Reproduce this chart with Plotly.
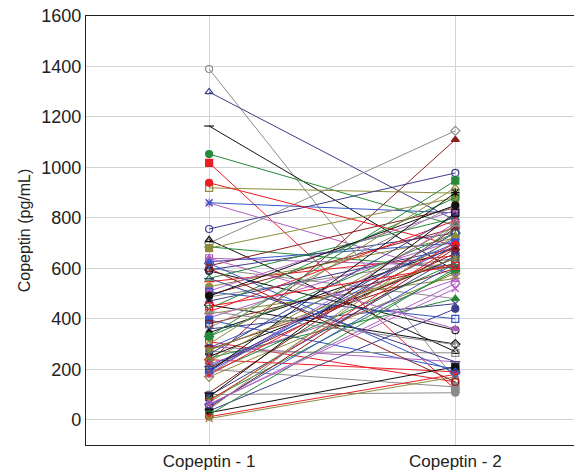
import plotly.graph_objects as go

timepoints = ["Copeptin - 1", "Copeptin - 2"]

copeptin_1 = [1390, 1299, 1164, 1053, 1018, 919, 859, 860, 230, 700, 756, 713, 685, 939, 680,
              640, 626, 610, 600, 594, 590, 560, 547, 527, 510, 507, 495, 487, 470, 455,
              440, 428, 420, 404, 395, 380, 364, 360, 345, 330, 310, 300, 290, 285, 280,
              270, 260, 250, 245, 238, 230, 220, 210, 205, 200, 198, 190, 185, 178, 170,
              182, 192, 107, 100, 95, 91, 80, 75, 67, 60, 55, 48, 40, 35, 28,
              20, 12, 5, 640, 620, 600, 430, 560, 490, 330, 450, 275, 62]
copeptin_2 = [160, 790, 590, 770, 120, 898, 575, 820, 1110, 1145, 978, 270, 600, 690, 880,
              610, 700, 840, 480, 740, 355, 800, 650, 720, 830, 400, 760, 640, 680, 300,
              880, 790, 560, 710, 200, 620, 850, 460, 680, 740, 150, 920, 230, 700, 600,
              265, 810, 640, 480, 190, 770, 555, 690, 660, 130, 740, 900, 620, 700, 580,
              780, 720, 760, 107, 650, 820, 590, 690, 730, 540, 620, 680, 770, 440, 210,
              600, 180, 170, 360, 186, 150, 298, 230, 850, 948, 610, 640, 520]

colors = ["#8c8c8c", "#3d3d8a", "#111111", "#268a3a", "#ec1c24", "#8c8c3c",
          "#b061c2", "#3355c4", "#8b1d1d"]
symbols = ["circle-open", "triangle-up-open", "line-ew-open", "circle", "square",
           "square-open", "asterisk-open", "x-thin-open", "triangle-up", "diamond-open"]

fig = go.Figure()
for i, (a, b) in enumerate(zip(copeptin_1, copeptin_2)):
    c = colors[i % len(colors)]
    fig.add_trace(go.Scatter(
        x=timepoints, y=[a, b], mode="lines+markers",
        line=dict(color=c, width=1),
        marker=dict(symbol=symbols[i % len(symbols)], size=7, color=c,
                    line=dict(color=c, width=1.2)),
        showlegend=False, hoverinfo="skip"))

fig.update_layout(
    width=574, height=474,
    margin=dict(l=86, r=0, t=16, b=29),
    paper_bgcolor="white", plot_bgcolor="white",
    font=dict(family="Liberation Sans, Arial, sans-serif", color="#222222"),
)
fig.update_xaxes(
    type="category", range=[-0.5, 1.482],
    showgrid=True, gridcolor="#d4d4d4", gridwidth=1,
    showline=True, linecolor="#222222", linewidth=1.3, mirror=True,
    ticks="", tickfont=dict(size=17), zeroline=False,
)
fig.update_yaxes(
    range=[-100, 1600], tickvals=[0, 200, 400, 600, 800, 1000, 1200, 1400, 1600],
    showgrid=True, gridcolor="#d4d4d4", gridwidth=1,
    showline=True, linecolor="#222222", linewidth=1.3,
    ticks="", tickfont=dict(size=18), zeroline=False,
    title=dict(text="Copeptin (pg/mL)", font=dict(size=16), standoff=6),
)
fig.write_html("out.html")
